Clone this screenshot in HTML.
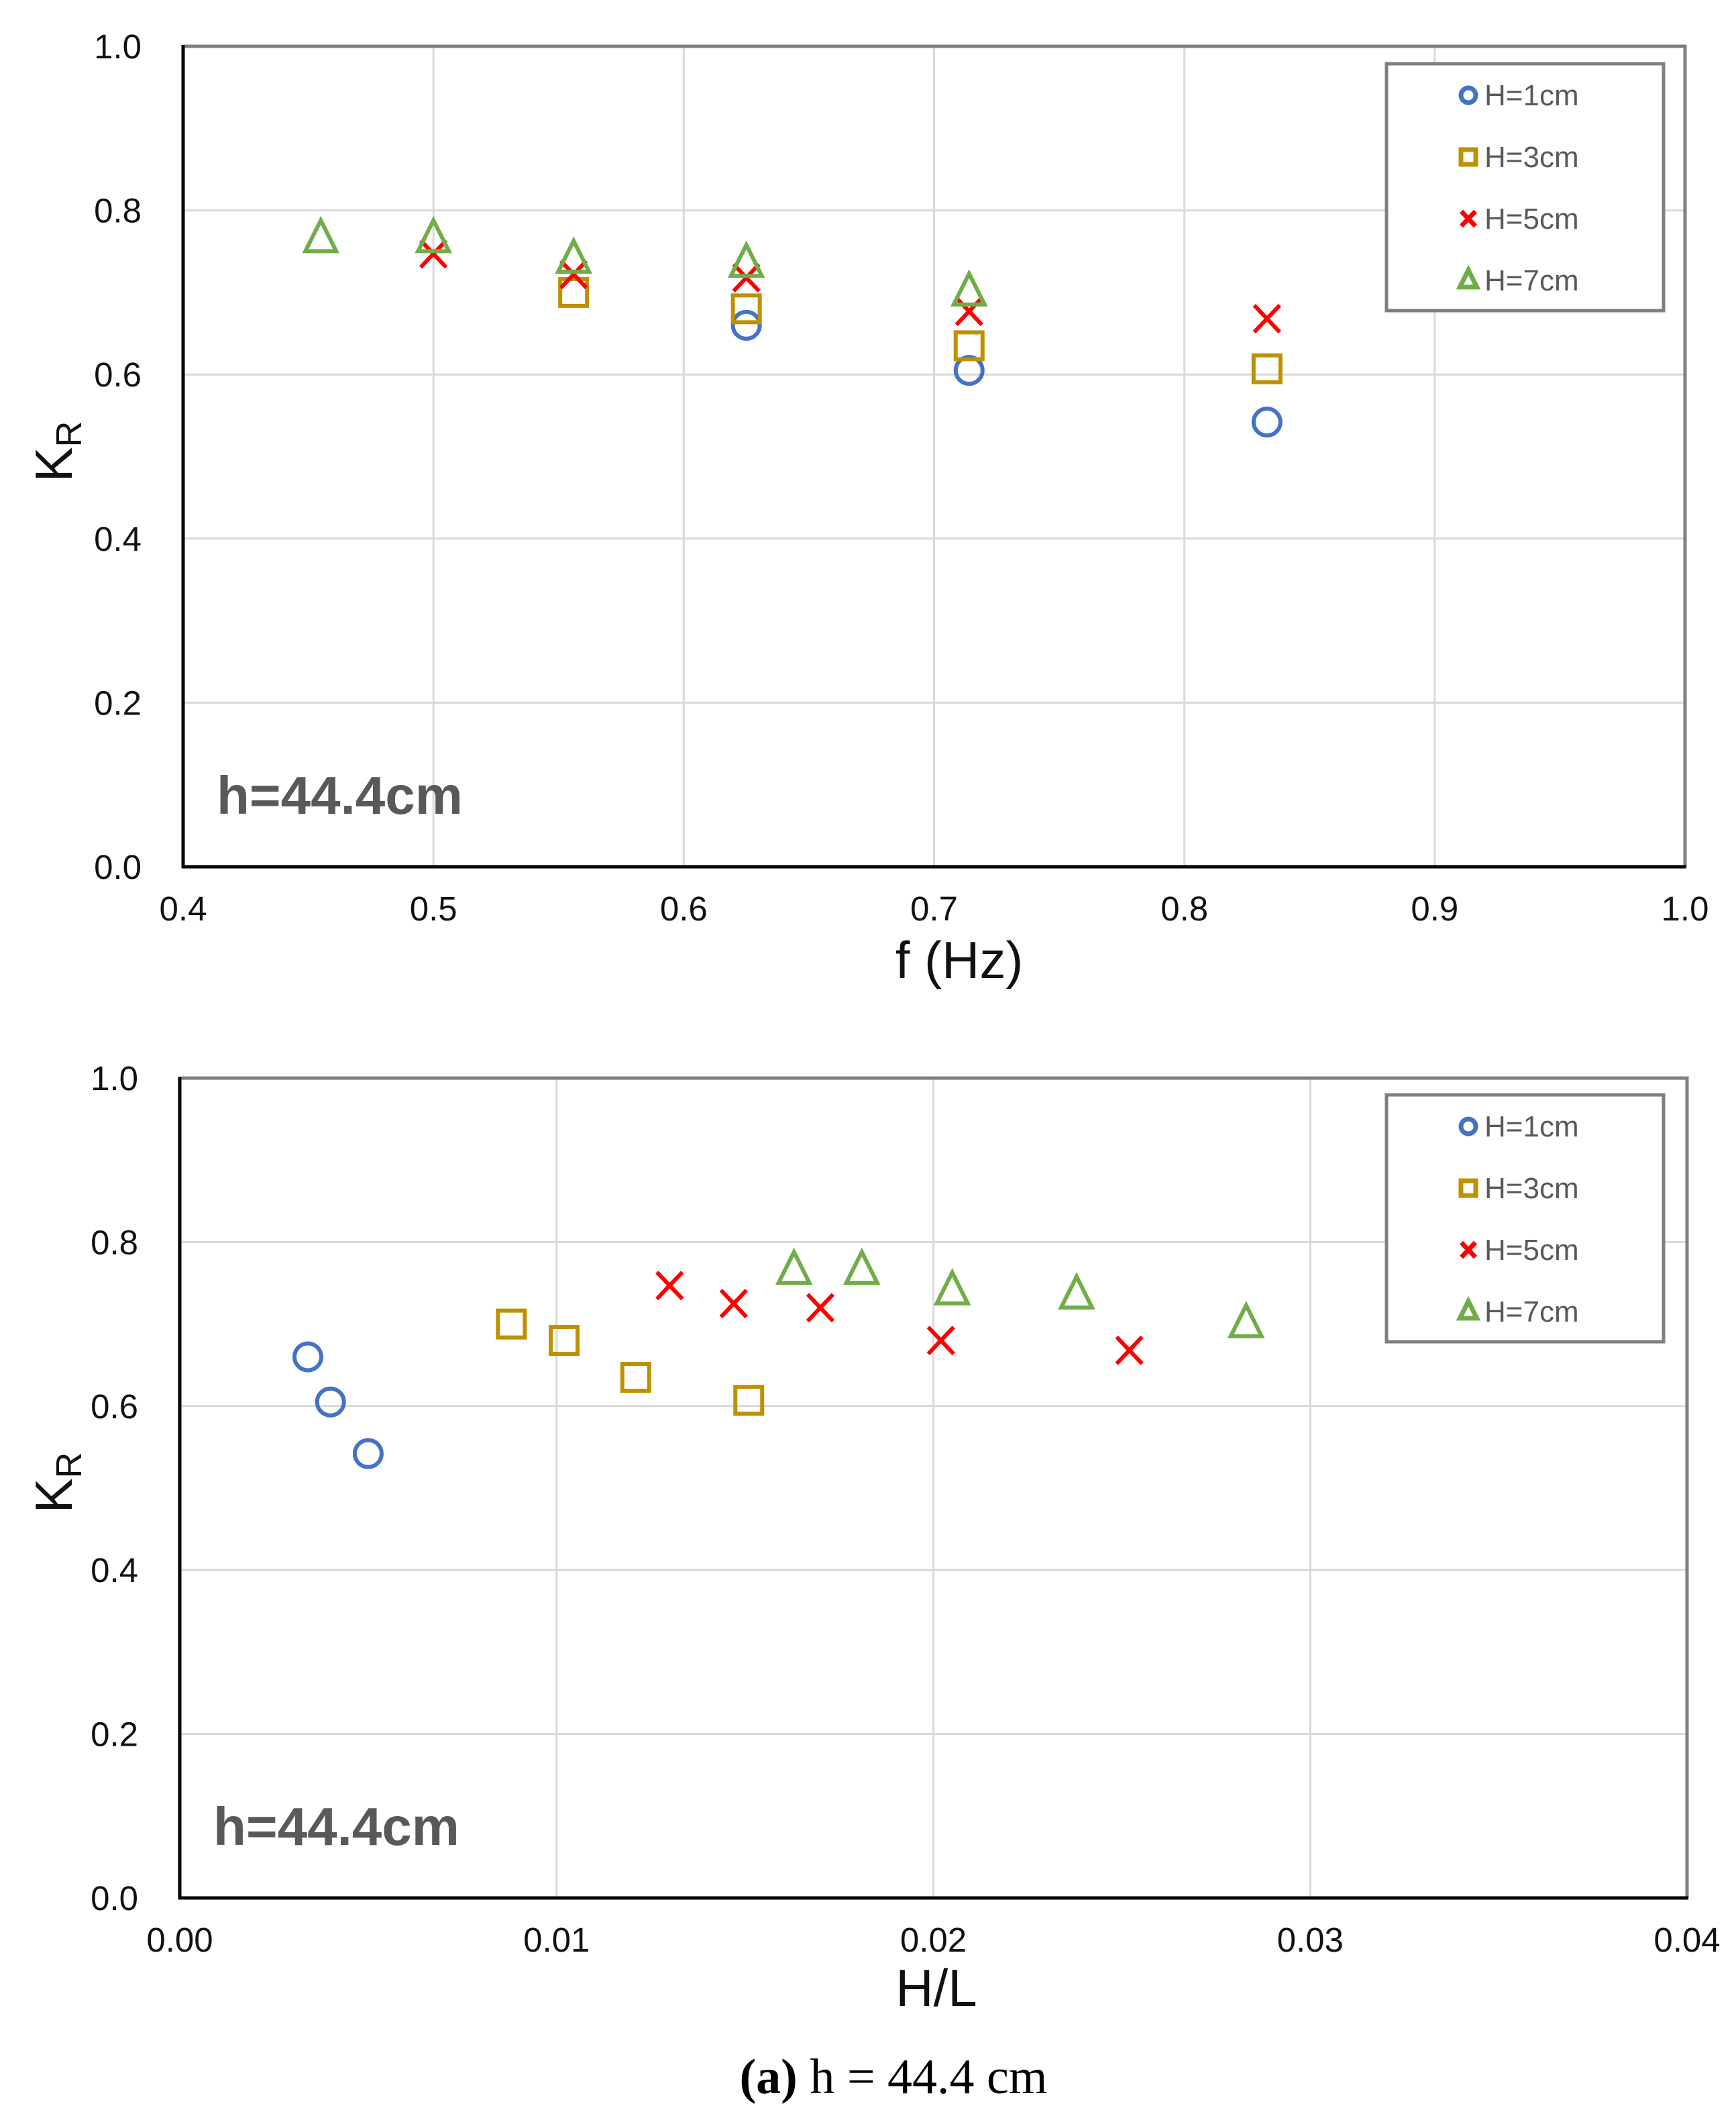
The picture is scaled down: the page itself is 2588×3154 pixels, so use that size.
<!DOCTYPE html>
<html><head><meta charset="utf-8"><style>
html,body{margin:0;padding:0;background:#fff;}
svg{display:block;}
</style></head><body>
<svg id="fig" width="2588" height="3154" viewBox="0 0 2588 3154" xmlns="http://www.w3.org/2000/svg" font-family="Liberation Sans, Arial, sans-serif">
<text x="1332" y="3120" text-anchor="middle" font-family="Liberation Serif, serif" font-size="74" fill="#000"><tspan font-weight="bold">(a)</tspan> h = 44.4 cm</text>
</svg>
<script>
// ---- Data: top chart (KR vs f) ----
const fTicks = [0.4,0.5,0.6,0.7,0.8,0.9,1.0];
const fTickLabels = ["0.4","0.5","0.6","0.7","0.8","0.9","1.0"];
const hlTicks = [0,0.01,0.02,0.03,0.04];
const hlTickLabels = ["0.00","0.01","0.02","0.03","0.04"];
const krTicks = [0,0.2,0.4,0.6,0.8,1.0];
const krTickLabels = ["0.0","0.2","0.4","0.6","0.8","1.0"];
const seriesNames = ["H=1cm","H=3cm","H=5cm","H=7cm"];

const f_H1 = [0.625,0.714,0.833];
const kr_f_H1 = [0.660,0.605,0.542];
const f_H3 = [0.556,0.625,0.714,0.833];
const kr_f_H3 = [0.700,0.680,0.635,0.607];
const f_H5 = [0.5,0.556,0.625,0.714,0.833];
const kr_f_H5 = [0.747,0.722,0.718,0.677,0.668];
const f_H7 = [0.455,0.5,0.556,0.625,0.714];
const kr_f_H7 = [0.765,0.765,0.740,0.735,0.700];

// ---- Data: bottom chart (KR vs H/L) ----
const hl_H1 = [0.0034,0.0040,0.0050];
const kr_hl_H1 = [0.660,0.605,0.542];
const hl_H3 = [0.0088,0.0102,0.0121,0.0151];
const kr_hl_H3 = [0.700,0.680,0.635,0.607];
const hl_H5 = [0.0130,0.0147,0.0170,0.0202,0.0252];
const kr_hl_H5 = [0.747,0.725,0.720,0.680,0.668];
const hl_H7 = [0.0163,0.0181,0.0205,0.0238,0.0283];
const kr_hl_H7 = [0.765,0.765,0.740,0.735,0.700];

const NS = "http://www.w3.org/2000/svg";
const svg = document.getElementById('fig');
const COLORS = ["#4472C4","#BF9000","#FF0000","#70AD47"];
const SHAPES = ["circle","square","cross","triangle"];

function mk(tag, attrs, parent){
  const e = document.createElementNS(NS, tag);
  for (const k in attrs) e.setAttribute(k, attrs[k]);
  (parent||svg).appendChild(e);
  return e;
}

function marker(g, shape, cx, cy, color, s, w){
  let e;
  const sw = w || 6*s;
  if (shape==="circle"){
    e = mk('circle',{cx:cx,cy:cy,r:20*s,fill:'none',stroke:color,'stroke-width':sw},g);
  } else if (shape==="square"){
    e = mk('rect',{x:cx-20*s,y:cy-20*s,width:40*s,height:40*s,fill:'none',stroke:color,'stroke-width':sw},g);
  } else if (shape==="cross"){
    e = mk('path',{d:`M${cx-19*s},${cy-20*s}L${cx+19*s},${cy+20*s}M${cx+19*s},${cy-20*s}L${cx-19*s},${cy+20*s}`,fill:'none',stroke:color,'stroke-width':sw},g);
  } else {
    e = mk('path',{d:`M${cx},${cy-28*s}L${cx+23*s},${cy+18*s}L${cx-23*s},${cy+18*s}Z`,fill:'none',stroke:color,'stroke-width':sw,'stroke-linejoin':'miter'},g);
  }
  return e;
}

function chart(cfg){
  const {name,L,R,T,B,xmin,xmax,xTicks,xLabels,xs,ys,xTitle,xTitleX,xTitleY,kY,tagY,legT} = cfg;
  const X = v => L + (v-xmin)/(xmax-xmin)*(R-L);
  const Y = v => B - v*(B-T);
  const g = mk('g',{});
  
  
  xTicks.forEach(v=>{
    const l = mk('line',{x1:X(v),x2:X(v),y1:T,y2:B,stroke:'#d9d9d9','stroke-width':3},g);
    
    
  });
  krTicks.forEach(v=>{
    const l = mk('line',{x1:L,x2:R,y1:Y(v),y2:Y(v),stroke:'#d9d9d9','stroke-width':3},g);
    
    
  });
  const fr = mk('path',{d:`M${L},${T}L${R},${T}L${R},${B}`,fill:'none',stroke:'#7f7f7f','stroke-width':5},g);
  
  
  const ya = mk('line',{x1:L,x2:L,y1:T-2,y2:B+2,stroke:'#000','stroke-width':5},g);
  
  
  const xa = mk('line',{x1:L-2,x2:R+2,y1:B,y2:B,stroke:'#000','stroke-width':5},g);
  
  
  krTicks.forEach((v,i)=>{
    const t = mk('text',{x:L-62,y:Y(v)+18,'text-anchor':'end','font-size':51,fill:'#111'},g);
    t.textContent = krTickLabels[i];
    
    
  });
  xTicks.forEach((v,i)=>{
    const t = mk('text',{x:X(v),y:B+80,'text-anchor':'middle','font-size':51,fill:'#111'},g);
    t.textContent = xLabels[i];
    
    
  });
  const xt = mk('text',{x:xTitleX,y:xTitleY,'text-anchor':'middle','font-size':78,fill:'#111'},g);
  xt.textContent = xTitle;
  
  
  const yt = mk('text',{x:0,y:0,'font-size':78,fill:'#111',transform:`translate(107,${kY}) rotate(-90)`,'text-anchor':'middle'},g);
  yt.innerHTML = 'K<tspan font-size="54" dy="14">R</tspan>';
  
  
  const tg = mk('text',{x:L+50,y:tagY,'font-size':80,'font-weight':'bold',fill:'#595959'},g);
  tg.textContent = 'h=44.4cm';
  
  
  for (let s=0;s<4;s++){
    const sg = mk('g',{},g);
    
    
    xs[s].forEach((v,i)=>{
      const m = marker(sg, SHAPES[s], X(v), Y(ys[s][i]), COLORS[s], 1);
      
      
    });
  }
  const lg = mk('g',{},g);
  
  
  mk('rect',{x:2067,y:legT,width:413,height:368,fill:'#fff',stroke:'#7f7f7f','stroke-width':5},lg);
  for (let s=0;s<4;s++){
    const cy = legT + 47 + s*92;
    const eg = mk('g',{},lg);
    
    
    marker(eg, SHAPES[s], 2189, cy, COLORS[s], 0.55, 7);
    const t = mk('text',{x:2213,y:cy+15,'font-size':44,fill:'#595959'},eg);
    t.textContent = seriesNames[s];
  }
}

chart({name:'top-chart',L:273,R:2512,T:69,B:1292,xmin:0.4,xmax:1.0,xTicks:fTicks,xLabels:fTickLabels,
  xs:[f_H1,f_H3,f_H5,f_H7],ys:[kr_f_H1,kr_f_H3,kr_f_H5,kr_f_H7],xTitle:'f (Hz)',xTitleX:1430,xTitleY:1458,kY:673,tagY:1213,legT:95});
chart({name:'bottom-chart',L:268,R:2515,T:1607,B:2829,xmin:0,xmax:0.04,xTicks:hlTicks,xLabels:hlTickLabels,
  xs:[hl_H1,hl_H3,hl_H5,hl_H7],ys:[kr_hl_H1,kr_hl_H3,kr_hl_H5,kr_hl_H7],xTitle:'H/L',xTitleX:1396,xTitleY:2990,kY:2210,tagY:2750,legT:1632});
</script>
</body></html>
